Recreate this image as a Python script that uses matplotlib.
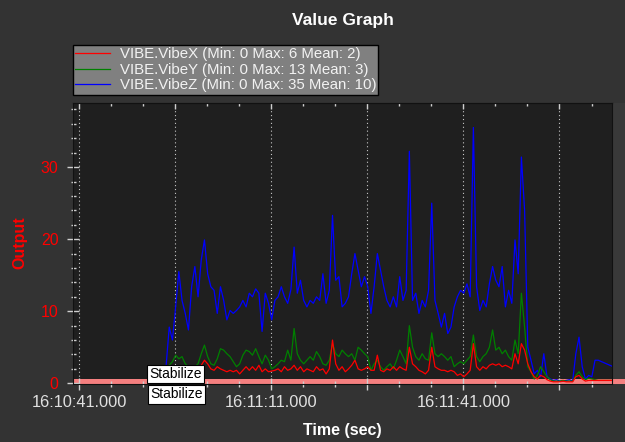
import numpy as np
import matplotlib
matplotlib.use('Agg')
import matplotlib.pyplot as plt
import matplotlib.transforms as mtransforms
from matplotlib.patches import Rectangle
from matplotlib.ticker import MultipleLocator, FuncFormatter, NullFormatter

plt.rcParams['font.family'] = ['Liberation Sans', 'DejaVu Sans']

# seconds after 16:10:41
base_clock = 16 * 3600 + 10 * 60 + 41
t_first = 13.55
t_step = 0.5
t_last = 86.0

vibe_x = [0.8, 1.2, 1.5, 1.3, 1.8, 1.5, 1.2, 1.0, 1.3, 1.5,
          1.8, 2.5, 3.2, 2.7, 2.0, 1.8, 2.3, 2.0, 1.8, 1.6,
          1.8, 1.6, 1.8, 1.3, 1.8, 2.3, 1.8, 2.3, 1.8, 2.5,
          1.6, 2.0, 1.6, 1.7, 1.8, 2.0, 1.6, 2.3, 1.8, 2.0,
          2.5, 1.8, 2.3, 1.6, 2.0, 1.8, 1.6, 2.3, 1.8, 2.0,
          1.3, 2.0, 6.0, 2.7, 1.8, 2.3, 1.6, 2.0, 2.5, 3.2,
          2.0, 1.8, 2.0, 2.3, 1.8, 1.8, 3.9, 1.8, 1.6, 2.0,
          1.8, 2.3, 1.8, 2.3, 2.0, 1.8, 5.0, 2.7, 2.3, 1.8,
          1.6, 1.3, 1.8, 5.0, 2.3, 2.0, 1.8, 1.8, 1.6, 1.8,
          1.6, 1.1, 1.3, 0.9, 1.3, 1.8, 5.5, 2.3, 1.8, 2.3,
          2.0, 2.5, 2.7, 2.5, 2.7, 2.3, 2.5, 2.3, 2.0, 4.1,
          2.7, 5.5, 4.6, 2.7, 1.6, 0.9, 0.6, 1.1, 0.9, 0.5,
          0.3, 0.2, 0.2, 0.2, 0.3, 0.2, 0.2, 0.2, 0.9, 1.1,
          0.6, 0.3, 0.4, 0.4, 0.4, 0.4, 0.4]

vibe_y = [1.5, 2.5, 3.0, 3.9, 3.4, 3.7, 2.7, 2.3, 2.0, 2.3,
          2.7, 4.1, 5.3, 3.7, 2.7, 2.5, 3.4, 4.8, 4.6, 4.1,
          3.7, 3.0, 2.3, 2.7, 3.9, 4.6, 4.4, 3.9, 4.8, 3.7,
          2.7, 3.9, 3.2, 2.0, 2.3, 2.7, 3.2, 3.0, 4.6, 3.2,
          7.6, 4.1, 3.2, 2.7, 3.2, 3.7, 3.2, 4.4, 3.7, 2.7,
          2.5, 3.2, 5.5, 4.1, 3.7, 4.6, 4.1, 3.7, 4.1, 3.2,
          5.0, 4.6, 4.1, 3.7, 1.8, 2.7, 3.2, 2.3, 1.8, 2.3,
          2.7, 2.0, 3.2, 4.6, 3.7, 2.7, 8.0, 5.0, 3.7, 3.2,
          4.1, 3.4, 3.2, 7.0, 4.1, 3.7, 4.1, 3.7, 3.2, 3.7,
          2.3, 2.7, 3.0, 2.7, 3.2, 3.7, 6.7, 3.7, 3.0, 3.7,
          4.1, 5.0, 7.4, 4.6, 5.0, 4.1, 4.6, 3.7, 3.2, 6.0,
          4.1, 12.5, 7.8, 2.3, 1.6, 0.6, 1.1, 2.3, 1.6, 0.9,
          0.5, 0.3, 0.3, 0.3, 0.4, 0.3, 0.3, 0.3, 1.1, 1.6,
          0.9, 0.5, 0.7, 0.6, 0.5, 0.4, 0.4]

vibe_z = [2.3, 7.8, 6.0, 10.6, 15.5, 11.5, 9.7, 7.4, 13.4, 16.2,
          12.0, 17.1, 19.9, 15.2, 13.4, 12.9, 9.7, 13.4, 11.5, 8.8,
          10.1, 9.7, 10.1, 10.6, 11.5, 10.6, 12.5, 12.0, 13.1, 12.5,
          7.2, 12.5, 11.1, 8.8, 11.5, 12.0, 13.4, 12.0, 11.1, 13.0,
          18.9, 12.5, 14.3, 11.5, 10.6, 11.5, 11.1, 12.0, 11.5, 15.2,
          11.1, 12.9, 23.3, 14.3, 14.8, 10.6, 11.1, 12.0, 15.2, 18.0,
          15.7, 13.4, 14.8, 13.4, 9.7, 13.4, 18.0, 15.7, 13.4, 11.5,
          10.6, 12.0, 10.6, 14.8, 11.5, 12.9, 32.2, 11.5, 12.5, 9.7,
          11.5, 10.6, 12.9, 25.0, 11.5, 9.7, 7.8, 9.7, 6.9, 7.8,
          10.6, 12.0, 12.9, 12.5, 13.8, 12.0, 35.5, 13.4, 10.1, 11.5,
          10.6, 13.8, 16.2, 14.3, 13.4, 16.2, 10.6, 12.9, 11.1, 19.9,
          15.2, 31.4, 24.0, 5.0, 3.2, 1.3, 1.8, 0.9, 4.1, 0.9,
          0.6, 0.4, 0.5, 0.3, 0.3, 0.4, 0.5, 0.3, 4.1, 6.4,
          2.3, 0.6, 1.1, 0.9, 3.2, 3.2, 1.3]

series_labels = ['VIBE.VibeX (Min: 0 Max: 6 Mean: 2)',
                 'VIBE.VibeY (Min: 0 Max: 13 Mean: 3)',
                 'VIBE.VibeZ (Min: 0 Max: 35 Mean: 10)']
series_colors = ['#ff0000', '#008000', '#0000ff']

mode_name = 'Stabilize'
mode_time = 10.9
mode_band_top = 0.65

n = len(vibe_z)
times = np.append(t_first + t_step * np.arange(n - 1), t_last)

fig = plt.figure(figsize=(6.25, 4.42), dpi=100, facecolor='#333333')
fig.add_artist(Rectangle((612 / 625, 1 - 384 / 442), 13 / 625, 281 / 442,
                         transform=fig.transFigure, color='#393939', lw=0, zorder=-1))
ax = fig.add_axes([73 / 625, 1 - 384 / 442, 539 / 625, 281 / 442])
ax.set_facecolor('#1f1f1f')
ax.set_xlim(-0.98, 83.2)
ax.set_ylim(-0.1, 38.9)

handles = []
for vals, col, zo in zip([vibe_x, vibe_y, vibe_z], series_colors, [4, 3, 2]):
    h, = ax.plot(times, vals, color=col, lw=0.9, zorder=zo)
    handles.append(h)

# flight mode band along the bottom
band_tr = mtransforms.blended_transform_factory(ax.transAxes, ax.transData)
ax.add_patch(Rectangle((0, -0.1), 1.025, mode_band_top + 0.1, transform=band_tr,
                       color='#f58080', lw=0, zorder=1.5, clip_on=False))

lab_tr = mtransforms.blended_transform_factory(ax.transData, ax.transAxes)
box = dict(boxstyle='square,pad=0.15', fc='white', ec='black', lw=0.8)
ax.annotate(mode_name, xy=(mode_time, 0), xycoords=lab_tr, xytext=(0, 2),
            textcoords='offset points', ha='left', va='bottom', fontsize=10,
            color='black', bbox=box, zorder=6, annotation_clip=False)
ax.annotate(mode_name, xy=(mode_time, 0), xycoords=lab_tr, xytext=(0.7, -2.5),
            textcoords='offset points', ha='left', va='top', fontsize=10,
            color='black', bbox=box, zorder=6, annotation_clip=False)


def clock_fmt(v, pos):
    if int(round(v)) % 30 != 0:
        return ''
    s = base_clock + int(round(v))
    return '%d:%02d:%02d.000' % (s // 3600, (s // 60) % 60, s % 60)


ax.xaxis.set_major_locator(MultipleLocator(15))
ax.xaxis.set_minor_locator(MultipleLocator(5))
ax.xaxis.set_major_formatter(FuncFormatter(clock_fmt))
ax.yaxis.set_major_locator(MultipleLocator(10))
ax.yaxis.set_minor_locator(MultipleLocator(2))

ax.tick_params(axis='x', which='major', direction='inout', length=8.6, width=1,
               color='#d0d0d0', labelcolor='#e0e0e0', labelsize=11.8, pad=3.5)
ax.tick_params(axis='x', which='minor', direction='inout', length=4.3, width=1,
               color='#d0d0d0')
ax.tick_params(axis='y', which='major', direction='inout', length=8.6, width=1,
               color='#d0d0d0', labelcolor='red', labelsize=11.5, pad=6)
ax.tick_params(axis='y', which='minor', direction='inout', length=3.6, width=1,
               color='#d0d0d0')

# inward-only ticks along the top edge
top = ax.secondary_xaxis('top')
top.xaxis.set_major_locator(MultipleLocator(15))
top.xaxis.set_minor_locator(MultipleLocator(5))
top.xaxis.set_major_formatter(NullFormatter())
top.tick_params(which='major', direction='in', length=4.3, width=1, color='#d0d0d0')
top.tick_params(which='minor', direction='in', length=2.2, width=1, color='#d0d0d0')
top.spines['top'].set_color('#111111')

ax.grid(axis='x', which='major', color='#c8c8c8', linestyle=(0, (1, 2.5)), lw=0.8)
for sp in ax.spines.values():
    sp.set_color('#111111')

fig.text(342.5 / 625, 1 - 20 / 442, 'Value Graph', ha='center', va='center',
         fontsize=12.5, fontweight='bold', color='white')
fig.text(342.5 / 625, 1 - 431 / 442, 'Time (sec)', ha='center', va='center',
         fontsize=11.5, fontweight='bold', color='white')
fig.text(20 / 625, 1 - 243 / 442, 'Output', ha='center', va='center', rotation=90,
         fontsize=11.5, fontweight='bold', color='red')

leg = fig.legend(handles, series_labels, loc='upper left',
                 bbox_to_anchor=(73 / 625, 1 - 45 / 442), borderaxespad=0,
                 fontsize=10.8, labelcolor='#f2f2f2', facecolor='#808080',
                 edgecolor='black', framealpha=1, fancybox=False,
                 handlelength=2.3, handletextpad=0.65, borderpad=0.15,
                 labelspacing=0.1)
leg.get_frame().set_linewidth(1)

fig.savefig('out.png', dpi=100, facecolor=fig.get_facecolor())
